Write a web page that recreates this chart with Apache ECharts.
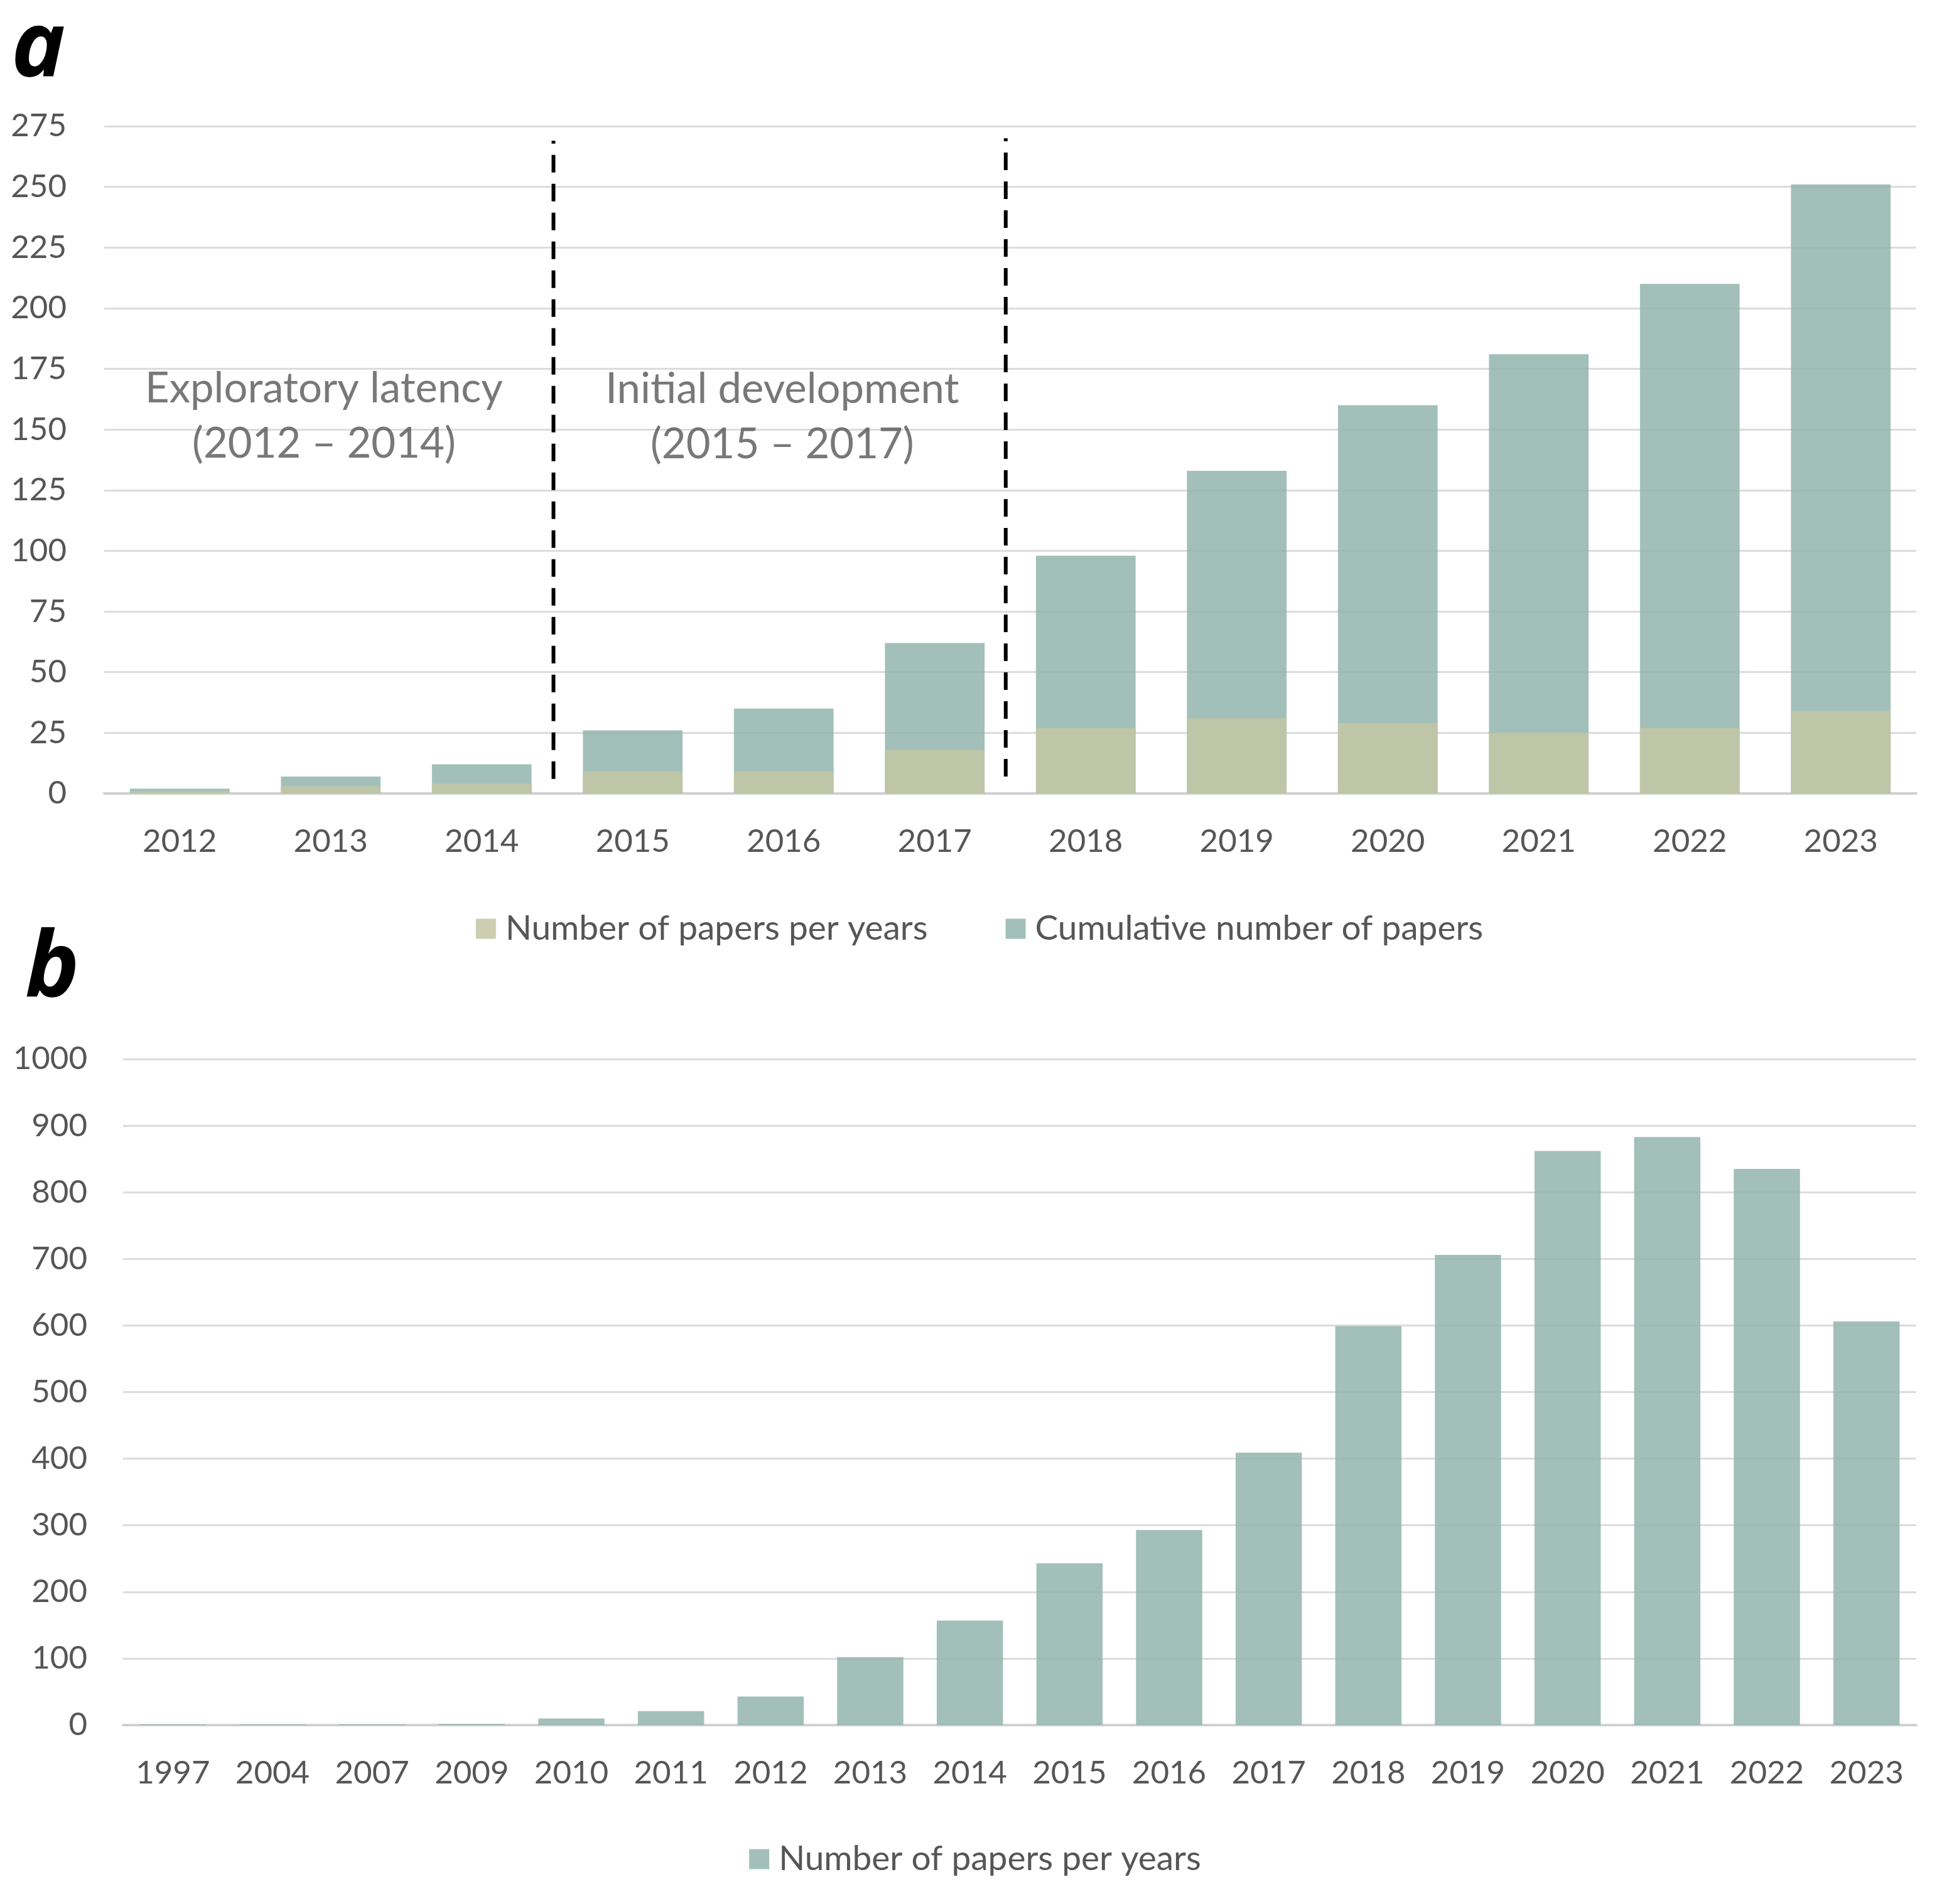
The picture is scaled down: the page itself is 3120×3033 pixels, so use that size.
<!DOCTYPE html>
<html>
<head>
<meta charset="utf-8">
<script src="https://cdn.jsdelivr.net/npm/echarts/dist/echarts.min.js"></script>
<style>
html,body{margin:0;padding:0;background:#fff;}
#chart{width:3120px;height:3033px;}
</style>
</head>
<body>
<div id="chart"></div>
<script>
// ---------- data ----------
const yearsA = ['2012','2013','2014','2015','2016','2017','2018','2019','2020','2021','2022','2023'];
const perYearA = [1, 3, 4, 9, 9, 18, 27, 31, 29, 25, 27, 34];
const cumulativeA = [2, 7, 12, 26, 35, 62, 98, 133, 160, 181, 210, 251];

const yearsB = ['1997','2004','2007','2009','2010','2011','2012','2013','2014','2015','2016','2017','2018','2019','2020','2021','2022','2023'];
const papersB = [1, 1, 1, 2, 10, 21, 43, 102, 157, 243, 293, 409, 599, 706, 862, 883, 835, 606];

const seriesNameA1 = 'Number of papers per years';
const seriesNameA2 = 'Cumulative number of papers';
const seriesNameB = 'Number of papers per years';

// phase boundaries (in category units on panel a) and annotation texts
const phaseBoundaries = [2.975, 5.97];
const boundaryRange = [[6, 269], [7, 270]];
const phaseLabels = ['Exploratory latency\n(2012 – 2014)', 'Initial development\n(2015 – 2017)'];
const phaseLabelPos = [[1.455, 155.5], [4.49, 155]];

// ---------- style ----------
const FONT = 'Lato';
const TXT = '#565656';
const TEAL = 'rgba(146,181,173,0.85)';
const OLIVE = 'rgba(196,197,163,0.85)';
const TEAL_B = 'rgba(146,181,173,0.85)';
const GRID_C = '#DCDCDC';

const chart = echarts.init(document.getElementById('chart'), null, {renderer: 'canvas'});

const lineSeries = phaseBoundaries.map((x, i) => ({
  type: 'line',
  xAxisIndex: 1, yAxisIndex: 0,
  data: [[x, boundaryRange[i][0]], [x, boundaryRange[i][1]]],
  symbol: 'none',
  silent: true,
  z: 10,
  lineStyle: {color: '#000', width: 6, type: [28, 18]}
}));

const option = {
  backgroundColor: '#fff',
  animation: false,
  textStyle: {fontFamily: FONT},
  graphic: [
    {type: 'text', left: 18, top: 8, style: {text: 'a', font: 'italic bold 145px "Open Sans"', fill: '#000'}},
    {type: 'text', left: 40, top: 1474, style: {text: 'b', font: 'italic bold 145px "Open Sans"', fill: '#000'}}
  ],
  legend: [
    {
      data: [seriesNameA1, seriesNameA2],
      left: 'center', top: 1447,
      icon: 'rect', itemWidth: 32, itemHeight: 32, itemGap: 124,
      textStyle: {fontFamily: FONT, fontSize: 55, color: TXT, padding: [0, 0, 0, 10]},
      selectedMode: false
    },
    {
      data: [{name: seriesNameB + ' ', icon: 'rect'}],
      left: 'center', top: 2929,
      icon: 'rect', itemWidth: 32, itemHeight: 32,
      textStyle: {fontFamily: FONT, fontSize: 55, color: TXT, padding: [0, 0, 0, 10]},
      selectedMode: false
    }
  ],
  grid: [
    {left: 166, right: 68, top: 201, height: 1063},
    {left: 196, right: 68, top: 1687, height: 1061}
  ],
  xAxis: [
    {
      type: 'category', gridIndex: 0, data: yearsA,
      axisLine: {lineStyle: {color: '#D0D0D0', width: 4}},
      axisTick: {show: false},
      axisLabel: {fontFamily: FONT, fontSize: 51, color: TXT, margin: 51, interval: 0}
    },
    {
      type: 'value', gridIndex: 0, min: 0, max: 12, show: false
    },
    {
      type: 'category', gridIndex: 1, data: yearsB,
      axisLine: {lineStyle: {color: '#D0D0D0', width: 4}},
      axisTick: {show: false},
      axisLabel: {fontFamily: FONT, fontSize: 51, color: TXT, margin: 51, interval: 0}
    }
  ],
  yAxis: [
    {
      type: 'value', gridIndex: 0, min: 0, max: 275, interval: 25,
      axisLine: {show: false}, axisTick: {show: false},
      axisLabel: {fontFamily: FONT, fontSize: 51, color: TXT, margin: 60, formatter: v => String(v)},
      splitLine: {lineStyle: {color: GRID_C, width: 3}}
    },
    {
      type: 'value', gridIndex: 1, min: 0, max: 1000, interval: 100,
      axisLine: {show: false}, axisTick: {show: false},
      axisLabel: {fontFamily: FONT, fontSize: 51, color: TXT, margin: 57, formatter: v => String(v)},
      splitLine: {lineStyle: {color: GRID_C, width: 3}}
    }
  ],
  series: [
    {
      name: seriesNameA2, type: 'bar', xAxisIndex: 0, yAxisIndex: 0,
      data: cumulativeA, barCategoryGap: '34%', barGap: '-100%',
      itemStyle: {color: TEAL}
    },
    {
      name: seriesNameA1, type: 'bar', xAxisIndex: 0, yAxisIndex: 0,
      data: perYearA, barCategoryGap: '34%', barGap: '-100%',
      itemStyle: {color: OLIVE}
    },
    ...lineSeries,
    {
      type: 'scatter', xAxisIndex: 1, yAxisIndex: 0,
      data: phaseLabels.map((t, i) => ({name: t, value: phaseLabelPos[i]})),
      symbolSize: 1, itemStyle: {color: 'rgba(0,0,0,0)'},
      silent: true, z: 11,
      label: {
        show: true, position: 'inside', formatter: '{b}',
        fontFamily: FONT, fontSize: 67, lineHeight: 88, color: TXT, align: 'center'
      }
    },
    {
      name: seriesNameB + ' ', type: 'bar', xAxisIndex: 2, yAxisIndex: 1,
      data: papersB, barCategoryGap: '33.5%',
      itemStyle: {color: TEAL_B}
    }
  ]
};
chart.setOption(option);
</script>
</body>
</html>
